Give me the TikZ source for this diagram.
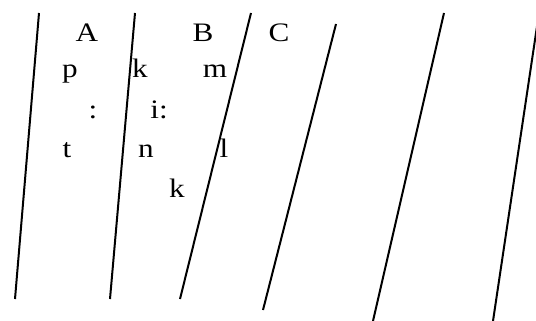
\documentclass[tikz,border=0pt]{standalone}
\usepackage{fontspec}
\setmainfont{Liberation Serif}
\newcommand{\widechar}[1]{\scalebox{1.17}[1]{#1}}
\begin{document}
\begin{tikzpicture}[x=0.75pt, y=-0.75pt, line width=1.5pt,
  glyph/.style={anchor=base, inner sep=0pt, font=\fontsize{20}{24}\selectfont}]
\useasboundingbox (0,0) rectangle (536,321);
\clip (0,0) rectangle (536,321);
% slanted strokes
\foreach \xt/\yt/\xb/\yb in {39/13/15/299, 135/13/110/299, 251/13/180/299,
  336/24/263/310, 444/13/373/321, 539/13/493/321}
  \draw (\xt,\yt) -- (\xb,\yb);
% column heads
\node[glyph] (headA) at (87,42) {\widechar{A}};
\node[glyph] (headB) at (203,42) {\widechar{B}};
\node[glyph] (headC) at (279,42) {\widechar{C}};
% row 1
\node[glyph] (pOne) at (70,78) {\widechar{p}};
\node[glyph] (kOne) at (140,78) {\widechar{k}};
\node[glyph] (mOne) at (215,78) {\widechar{m}};
% row 2
\node[glyph] (colonOne) at (93,118) {\widechar{:}};
\node[glyph] (iColon) at (159,118) {\widechar{i:}};
% row 3
\node[glyph] (tOne) at (67,157) {\widechar{t}};
\node[glyph] (nOne) at (146,157) {\widechar{n}};
\node[glyph] (lOne) at (224,157) {\widechar{l}};
% row 4
\node[glyph] (kTwo) at (177,197) {\widechar{k}};
\end{tikzpicture}
\end{document}
